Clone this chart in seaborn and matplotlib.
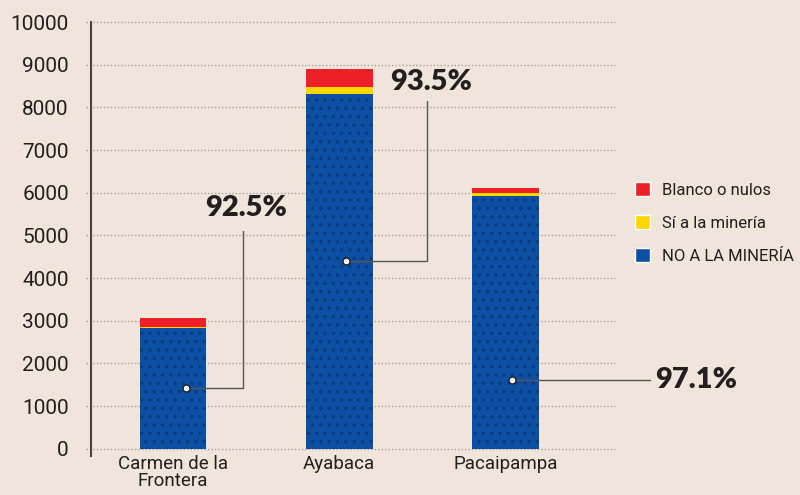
import pandas as pd
import seaborn as sns
import matplotlib.pyplot as plt
from matplotlib.patches import Patch

# datos
distritos = ["Carmen de la\nFrontera", "Ayabaca", "Pacaipampa"]
no_mineria = [2840, 8310, 5925]
si_mineria = [20, 160, 60]
blanco_nulos = [210, 430, 125]
porcentajes = ["92.5%", "93.5%", "97.1%"]

df = pd.DataFrame({
    "distrito": distritos,
    "no": no_mineria,
    "si": si_mineria,
    "blanco": blanco_nulos,
})
df["no_si"] = df["no"] + df["si"]
df["total"] = df["no_si"] + df["blanco"]

bg = "#efe5da"
rojo = "#ee2027"
amarillo = "#ffd700"
azul = "#0d4fa3"
texto = "#231f20"

sns.set_theme(style="white")
plt.rcParams["font.family"] = ["Roboto", "DejaVu Sans"]
plt.rcParams["hatch.color"] = "#0a3c7e"
plt.rcParams["hatch.linewidth"] = 1.2

fig = plt.figure(figsize=(8, 4.95), dpi=100, facecolor=bg)
ax = fig.add_axes([91 / 800, 1 - 456 / 495, (615 - 91) / 800, (456 - 22) / 495])
ax.set_facecolor(bg)

# barras apiladas: total (rojo), no+sí (amarillo), no (azul)
sns.barplot(data=df, x="distrito", y="total", color=rojo, width=0.4,
            saturation=1, ax=ax, zorder=3)
sns.barplot(data=df, x="distrito", y="no_si", color=amarillo, width=0.4,
            saturation=1, ax=ax, zorder=3)
sns.barplot(data=df, x="distrito", y="no", color=azul, width=0.4,
            saturation=1, ax=ax, zorder=3)
for p in ax.patches:
    p.set_linewidth(0)
for p in ax.patches[-3:]:
    p.set_hatch("..")
    p.set_edgecolor("#0a3c7e")

ax.set_xlim(-0.495, 2.66)
ax.set_ylim(-170, 10000)
ax.set_yticks(range(0, 10001, 1000))
ax.set_yticklabels([str(v) for v in range(0, 10001, 1000)], fontsize=15, color=texto)
ax.tick_params(axis="y", length=0, pad=16)
ax.tick_params(axis="x", length=0, pad=-1, labelsize=13.5, labelcolor=texto)
for t in ax.get_xticklabels():
    t.set_linespacing(0.95)
ax.set_xlabel("")
ax.set_ylabel("")

for v in range(0, 10001, 1000):
    ax.axhline(v, xmin=-0.01, xmax=1, color="#a8a39d", linestyle=(0, (1, 1.5)),
               linewidth=1, zorder=1, clip_on=False)

for s in ["top", "right", "bottom"]:
    ax.spines[s].set_visible(False)
ax.spines["left"].set_color("#444444")
ax.spines["left"].set_linewidth(1.5)
ax.spines["left"].set_zorder(4)

# anotaciones de porcentaje
lc = "#555555"
pct_font = dict(fontsize=21, fontweight="heavy", family=["Lato", "DejaVu Sans"],
                color=texto)

# Carmen de la Frontera
x0, y0 = 0.08, 1420
xc = 0.42
ax.plot([x0, xc, xc], [y0, y0, 5100], color=lc, lw=1, zorder=5)
ax.plot(x0, y0, "o", ms=5, mfc="white", mec=texto, mew=1, zorder=6)
ax.text(0.19, 5330, porcentajes[0], ha="left", va="bottom", **pct_font)

# Ayabaca
x1, y1 = 1.04, 4400
xa = 1.53
ax.plot([x1, xa, xa], [y1, y1, 8150], color=lc, lw=1, zorder=5)
ax.plot(x1, y1, "o", ms=5, mfc="white", mec=texto, mew=1, zorder=6)
ax.text(1.305, 8280, porcentajes[1], ha="left", va="bottom", **pct_font)

# Pacaipampa
x2, y2 = 2.04, 1620
ax.plot([x2, 2.87], [y2, y2], color=lc, lw=1, zorder=5, clip_on=False)
ax.plot(x2, y2, "o", ms=5, mfc="white", mec=texto, mew=1, zorder=6)
ax.text(2.9, y2, porcentajes[2], ha="left", va="center", clip_on=False, **pct_font)

# leyenda
handles = [
    Patch(facecolor=rojo, label="Blanco o nulos"),
    Patch(facecolor=amarillo, label="Sí a la minería"),
    Patch(facecolor=azul, label="NO A LA MINERÍA"),
]
fig.legend(handles=handles, loc="center left", bbox_to_anchor=(620 / 800, 1 - 223 / 495),
           frameon=False, fontsize=12, labelcolor=texto, handlelength=0.9,
           handleheight=0.9, handletextpad=0.7, labelspacing=1.05)

fig.savefig("out.png", dpi=100, facecolor=bg)
